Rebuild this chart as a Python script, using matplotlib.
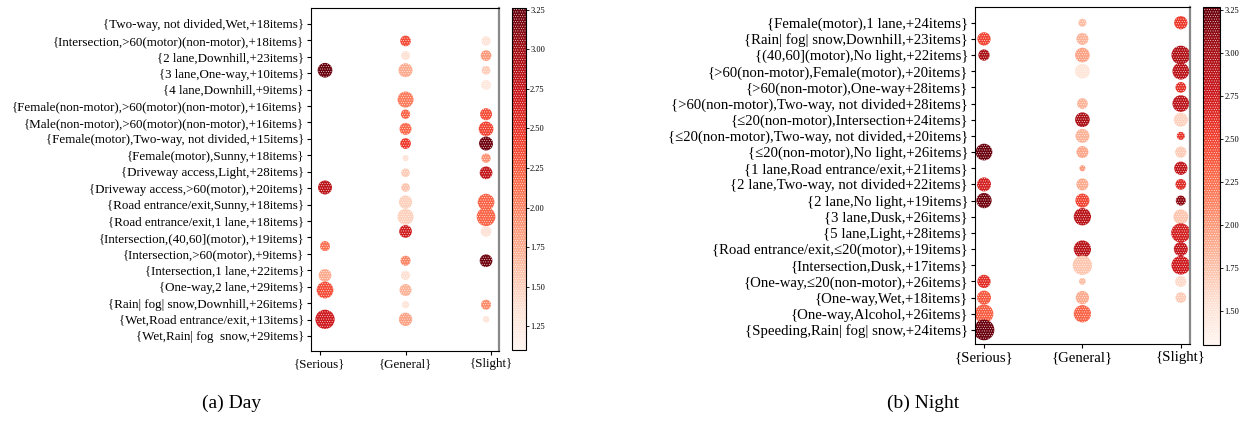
import matplotlib
matplotlib.use('Agg')
import matplotlib.pyplot as plt
from matplotlib.patches import Rectangle
import numpy as np

plt.rcParams['font.family'] = ['Liberation Serif', 'DejaVu Sans']
plt.rcParams['hatch.color'] = 'white'
plt.rcParams['hatch.linewidth'] = 0.3

severity = ['{Serious}', '{General}', '{Slight}']

# ---- (a) Day ----
day_labels = ['{Two-way, not divided,Wet,+18items}',
              '{Intersection,>60(motor)(non-motor),+18items}',
              '{2 lane,Downhill,+23items}',
              '{3 lane,One-way,+10items}',
              '{4 lane,Downhill,+9items}',
              '{Female(non-motor),>60(motor)(non-motor),+16items}',
              '{Male(non-motor),>60(motor)(non-motor),+16items}',
              '{Female(motor),Two-way, not divided,+15items}',
              '{Female(motor),Sunny,+18items}',
              '{Driveway access,Light,+28items}',
              '{Driveway access,>60(motor),+20items}',
              '{Road entrance/exit,Sunny,+18items}',
              '{Road entrance/exit,1 lane,+18items}',
              '{Intersection,(40,60](motor),+19items}',
              '{Intersection,>60(motor),+9items}',
              '{Intersection,1 lane,+22items}',
              '{One-way,2 lane,+29items}',
              '{Rain| fog| snow,Downhill,+26items}',
              '{Wet,Road entrance/exit,+13items}',
              '{Wet,Rain| fog  snow,+29items}']

day_sev = [0, 0, 0, 0, 0, 0,
           1, 1, 1, 1, 1, 1, 1, 1, 1, 1, 1, 1, 1, 1, 1, 1, 1, 1,
           2, 2, 2, 2, 2, 2, 2, 2, 2, 2, 2, 2, 2, 2, 2]
day_row = [2, 10, 14, 16, 17, 19,
           0, 1, 2, 4, 5, 6, 7, 8, 9, 10, 11, 12, 13, 15, 16, 17, 18, 19,
           0, 1, 2, 3, 5, 6, 7, 8, 9, 11, 12, 13, 15, 18, 19]
day_lift = [3.25, 2.83, 2.14, 1.75, 2.35, 2.70,
            2.35, 1.36, 1.75, 2.07, 2.22, 2.18, 2.46, 1.36, 1.53, 1.58, 1.49, 1.49,
            2.68, 2.00, 1.36, 1.70, 1.32, 1.81,
            1.32, 1.86, 1.53, 1.27, 2.35, 2.40, 3.22, 1.92, 2.78, 2.22, 2.22, 1.36,
            3.22, 1.96, 1.32]
day_supp = [14.7, 14.0, 10.0, 12.7, 16.7, 19.3,
            10.7, 9.0, 14.0, 16.0, 9.3, 12.0, 10.7, 6.0, 8.7, 8.7, 13.3, 16.0,
            12.7, 10.0, 9.3, 12.0, 7.3, 13.3,
            9.3, 10.7, 8.7, 10.0, 12.0, 14.7, 14.0, 9.3, 12.7, 16.7, 18.7, 10.7,
            12.7, 10.0, 6.7]

# ---- (b) Night ----
night_labels = ['{Female(motor),1 lane,+24items}',
                '{Rain| fog| snow,Downhill,+23items}',
                '{(40,60](motor),No light,+22items}',
                '{>60(non-motor),Female(motor),+20items}',
                '{>60(non-motor),One-way+28items}',
                '{>60(non-motor),Two-way, not divided+28items}',
                '{\u226420(non-motor),Intersection+24items}',
                '{\u226420(non-motor),Two-way, not divided,+20items}',
                '{\u226420(non-motor),No light,+26items}',
                '{1 lane,Road entrance/exit,+21items}',
                '{2 lane,Two-way, not divided+22items}',
                '{2 lane,No light,+19items}',
                '{3 lane,Dusk,+26items}',
                '{5 lane,Light,+28items}',
                '{Road entrance/exit,\u226420(motor),+19items}',
                '{Intersection,Dusk,+17items}',
                '{One-way,\u226420(non-motor),+26items}',
                '{One-way,Wet,+18items}',
                '{One-way,Alcohol,+26items}',
                '{Speeding,Rain| fog| snow,+24items}']

night_sev = [0, 0, 0, 0, 0, 0, 0, 0, 0,
             1, 1, 1, 1, 1, 1, 1, 1, 1, 1, 1, 1, 1, 1, 1, 1, 1,
             2, 2, 2, 2, 2, 2, 2, 2, 2, 2, 2, 2, 2, 2, 2, 2, 2]
night_row = [1, 2, 8, 10, 11, 16, 17, 18, 19,
             0, 1, 2, 3, 5, 6, 7, 8, 9, 10, 11, 12, 14, 15, 16, 17, 18,
             0, 2, 3, 4, 5, 6, 7, 8, 9, 10, 11, 12, 13, 14, 15, 16, 17]
night_lift = [2.48, 3.00, 3.25, 2.72, 3.23, 2.62, 2.38, 2.35, 3.25,
              1.79, 1.85, 1.95, 1.50, 1.85, 2.97, 1.85, 1.93, 2.00, 1.90, 2.48,
              2.90, 2.90, 1.73, 1.79, 1.90, 2.32,
              2.54, 2.94, 2.88, 2.60, 2.88, 1.65, 2.58, 1.69, 2.84, 2.64, 3.11,
              1.73, 2.72, 2.82, 2.76, 1.60, 1.69]
night_supp = [13.3, 11.3, 16.7, 14.0, 15.3, 13.3, 14.0, 18.7, 20.7,
              8.0, 12.0, 14.7, 14.7, 10.7, 14.7, 14.0, 12.0, 6.0, 12.0, 14.0,
              17.3, 17.3, 19.3, 6.7, 13.3, 17.3,
              13.3, 18.7, 16.7, 10.7, 16.7, 14.0, 8.0, 11.3, 13.3, 10.7, 10.0,
              14.7, 19.3, 14.0, 18.7, 11.3, 10.7]


def panel(fig, rect, crect, labels, sev, row, lift, supp, vmin, vmax,
          xt, xlim, yt, ylim, fs, cticks):
    ax = fig.add_axes(rect)
    cax = fig.add_axes(crect)
    sizes = (0.72 * np.array(supp)) ** 2
    sc = ax.scatter(sev, row, s=sizes, c=lift, cmap='Reds', vmin=vmin, vmax=vmax,
                    edgecolors='none', hatch='.......')
    ax.set_xlim(xlim)
    ax.set_ylim(ylim)
    ax.set_xticks(xt)
    ax.set_xticklabels(severity, fontsize=fs)
    ax.set_yticks(yt)
    ax.set_yticklabels(labels, fontsize=fs)
    ax.tick_params(length=3, width=0.8, pad=2)
    ax.spines['right'].set_color('#888888')
    ax.spines['right'].set_linewidth(1.6)
    cb = fig.colorbar(sc, cax=cax, ticks=cticks)
    cb.ax.tick_params(labelsize=6, length=2, width=0.6, pad=1)
    cb.ax.yaxis.set_major_formatter(plt.FormatStrFormatter('%.2f'))
    cax.add_patch(Rectangle((0, 0), 1, 1, transform=cax.transAxes, fill=False,
                            hatch='.......', edgecolor='white', linewidth=0))
    return ax


fig = plt.figure(figsize=(12.46, 4.24), dpi=100)

panel(fig, [0.2496, 0.1722, 0.1509, 0.809], [0.4109, 0.1745, 0.0112, 0.8066],
      day_labels, day_sev, day_row, day_lift, day_supp, 1.10, 3.26,
      [-0.065, 1, 2.065], (-0.174, 2.161),
      np.linspace(-1.160, -1.160 + 1.1208 * 19, 20), (21.16, -2.25), 9.4,
      np.arange(1.25, 3.26, 0.25))

panel(fig, [0.7825, 0.1887, 0.1726, 0.7955], [0.9655, 0.1863, 0.0136, 0.798],
      night_labels, night_sev, night_row, night_lift, night_supp, 1.30, 3.27,
      [0, 1, 2], (-0.0915, 2.094),
      np.arange(20), (19.87, -0.99), 10.6,
      np.arange(1.50, 3.26, 0.25))

fig.text(232 / 1246, 1 - 403 / 424, '(a) Day', fontsize=14, ha='center', va='center')
fig.text(923 / 1246, 1 - 403 / 424, '(b) Night', fontsize=14, ha='center', va='center')

fig.savefig('out.png', dpi=100)
